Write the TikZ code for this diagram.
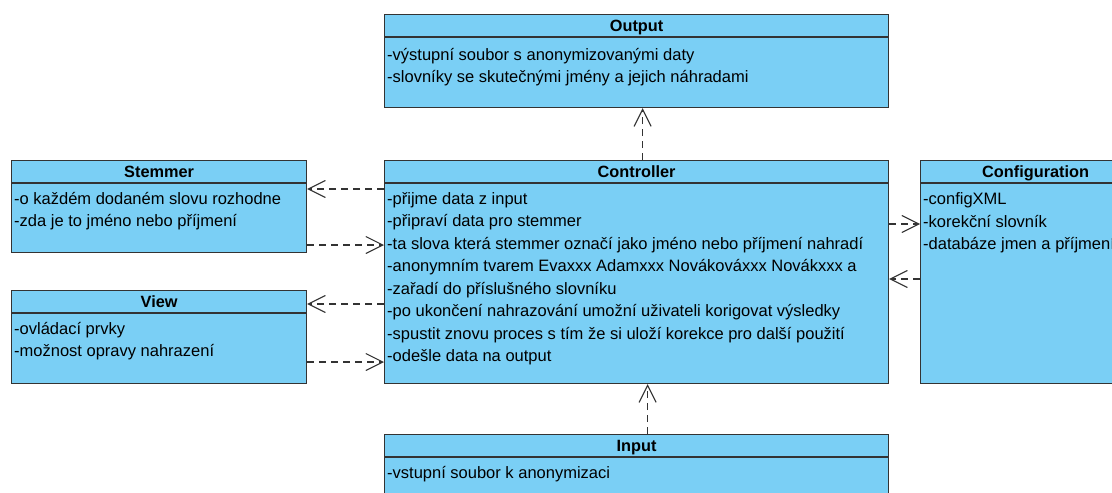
\documentclass[tikz,border=0pt]{standalone}
\usepackage{fontspec}
\setmainfont{Liberation Sans}
\usetikzlibrary{arrows.meta}
\definecolor{umlBlue}{HTML}{7ACFF5}
\definecolor{umlGrey}{HTML}{333333}

\begin{document}
\begin{tikzpicture}[x=1pt,y=-1pt]
    \pgfmathsetmacro{\hd}{23}
    \pgfmathsetmacro{\ls}{22.5}
    \tikzset{
        umlclass/.style={draw=umlGrey,fill=umlBlue,line width=1.2pt,anchor=north west,inner sep=0pt},
        classname/.style={font=\fontsize{16.3}{20}\selectfont\bfseries,anchor=base,inner sep=0pt},
        attr/.style={font=\fontsize{16.5}{20}\selectfont,anchor=base west,inner sep=0pt},
        dep/.style={draw=umlGrey,line width=1.1pt,dash pattern=on 7pt off 5pt,-{Straight Barb[length=17pt,width=17pt]}}
    }
    \clip (0,0) rectangle (1112,493);
    \foreach \name/\title/\px/\py/\w/\h in {output/Output/384/14/504/93,stemmer/Stemmer/11/160/295/92,view/View/11/290/295/93,controller/Controller/384/160/504/223,config/Configuration/920/160/230/223,input/Input/384/434/504/80}{
        \node[umlclass,minimum width=\w pt,minimum height=\h pt] (\name) at (\px,\py) {};
        \draw[umlGrey,line width=1.2pt] ([shift={(0,\hd)}]\name.north west) -- ([shift={(0,\hd)}]\name.north east);
        \node[classname] (\name-title) at ([shift={(0,17.5)}]\name.north) {\title};
        }
    \foreach \txt [count=\i] in {-výstupní soubor s anonymizovanými daty,-slovníky se skutečnými jmény a jejich náhradami}
        \node[attr] (output-\i) at ([shift={(3,{23.5+\i*\ls})}]output.north west) {\txt};
    \foreach \txt [count=\i] in {-o každém dodaném slovu rozhodne,-zda je to jméno nebo příjmení}
        \node[attr] (stemmer-\i) at ([shift={(3,{21.5+\i*\ls})}]stemmer.north west) {\txt};
    \foreach \txt [count=\i] in {-ovládací prvky,-možnost opravy nahrazení}
        \node[attr] (view-\i) at ([shift={(3,{21.5+\i*\ls})}]view.north west) {\txt};
    \foreach \txt [count=\i] in {-přijme data z input,-připraví data pro stemmer,-ta slova která stemmer označí jako jméno nebo příjmení nahradí,-anonymním tvarem Evaxxx Adamxxx Novákováxxx Novákxxx a,-zařadí do příslušného slovníku,-po ukončení nahrazování umožní uživateli korigovat výsledky,-spustit znovu proces s tím že si uloží korekce pro další použití,-odešle data na output}
        \node[attr] (controller-\i) at ([shift={(3,{21.5+\i*\ls})}]controller.north west) {\txt};
    \foreach \txt [count=\i] in {-configXML,-korekční slovník,-databáze jmen a příjmení}
        \node[attr] (config-\i) at ([shift={(3,{22+\i*\ls})}]config.north west) {\txt};
    \foreach \txt [count=\i] in {-vstupní soubor k anonymizaci}
        \node[attr] (input-\i) at ([shift={(3,{22+\i*\ls})}]input.north west) {\txt};
    \draw[dep] ([xshift=6pt]controller.north) -- ([xshift=6pt]output.south);
    \draw[dep] ([xshift=11pt]input.north) -- ([xshift=11pt]controller.south);
    \draw[dep] ([shift={(0,29)}]controller.north west) -- ([shift={(0,29)}]stemmer.north east);
    \draw[dep] ([shift={(0,85)}]stemmer.north east) -- ([shift={(0,85)}]controller.north west);
    \draw[dep] ([shift={(0,144)}]controller.north west) -- ([shift={(0,14)}]view.north east);
    \draw[dep] ([shift={(0,72)}]view.north east) -- ([shift={(0,202)}]controller.north west);
    \draw[dep] ([shift={(0,64)}]controller.north east) -- ([shift={(0,64)}]config.north west);
    \draw[dep] ([shift={(0,119)}]config.north west) -- ([shift={(0,119)}]controller.north east);
\end{tikzpicture}
\end{document}
